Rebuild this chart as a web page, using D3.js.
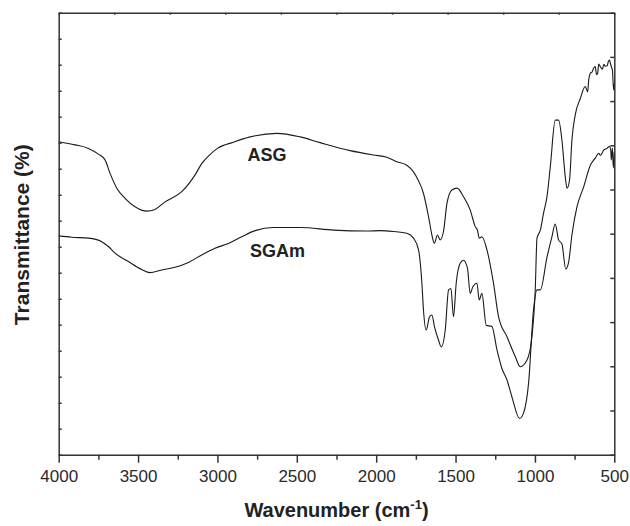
<!DOCTYPE html>
<html>
<head>
<meta charset="utf-8">
<script src="https://cdn.jsdelivr.net/npm/d3@7/dist/d3.min.js"></script>
<style>
  html, body { margin: 0; padding: 0; background: #fff; }
  svg { display: block; }
  text { font-family: Arial, "Liberation Sans", sans-serif; }
</style>
</head>
<body>
<svg id="chart" width="630" height="526"></svg>
<script>
// FTIR spectra: wavenumber (cm-1) and transmittance (arbitrary %)
const wnASG = [4000,3897,3813,3750,3708,3677,3634,3582,3519,3445,3393,3330,3225,3141,3100,3050,3000,2900,2794,2626,2479,2353,2164,2017,1933,1870,1807,1765,1735,1702,1670,1649,1634,1614,1597,1576,1554,1523,1491,1450,1408,1376,1362,1351,1334,1302,1261,1229,1176,1124,1092,1050,1019,998,987,966,946,924,903,872,851,830,809,798,782,767,746,714,683,668,661,651,640,630,620,612,605,598,588,575,566,557,545,537,530,525,519,512,504,500];
const tASG  = [70.8,70.1,69.3,68.0,66.7,63.7,60.3,58.0,56.1,55.1,55.5,57.2,59.5,63.3,65.8,67.8,69.3,70.7,71.9,72.7,71.9,70.6,68.8,67.8,67.3,66.3,65.5,64.0,62.1,59.1,53.8,49.7,47.8,49.7,48.6,50.5,56.9,59.9,60.3,58.4,55.4,51.6,50.8,49.0,49.3,46.3,38.8,31.2,26.7,22.2,19.9,21.4,26.7,37.3,49.0,50.8,54.6,58.4,65.2,75.7,75.7,71.2,62.9,60.3,62.1,71.2,76.9,80.6,83.3,82.1,84.8,86.3,86.6,87.5,87.8,86.0,86.3,88.4,87.8,87.2,88.3,87.9,88.0,89.0,89.3,88.6,87.8,87.0,82.5,84.0];

const wnSGAm = [4000,3918,3813,3729,3687,3645,3561,3477,3425,3351,3267,3183,3099,3015,2931,2847,2763,2647,2479,2269,2059,1975,1891,1807,1765,1733,1712,1702,1685,1664,1649,1633,1607,1590,1565,1544,1529,1513,1496,1471,1450,1425,1408,1391,1365,1351,1334,1307,1271,1239,1208,1176,1145,1097,1072,1040,1009,987,966,924,893,872,851,830,806,788,767,735,693,651,620,598,588,567,546,530,522,519,512,506,500];
const tSGAm  = [49.5,49.2,49.0,48.2,47.1,45.6,43.7,41.9,41.2,41.8,42.4,43.5,45.2,46.7,47.8,49.3,50.7,51.4,51.4,50.8,50.6,50.7,50.5,50.1,49.0,46.3,38.8,32.7,28.2,31.2,31.6,29.0,25.9,24.4,28.2,37.3,37.6,31.2,38.8,43.3,44.0,42.2,36.5,38.0,38.8,35.0,36.5,29.3,29.0,23.7,19.5,16.9,13.1,8.2,9.4,16.2,32.7,37.3,37.3,44.7,49.3,52.2,48.6,47.7,42.0,43.5,49.7,56.1,60.6,65.5,67.1,68.2,67.7,68.9,69.3,69.8,68.8,66.7,69.4,64.9,68.5];

const seriesNames = ["ASG", "SGAm"];
const xTickValues = [4000, 3500, 3000, 2500, 2000, 1500, 1000, 500];
const xMinorTicks = [3750, 3250, 2750, 2250, 1750, 1250, 750];

const plot = { left: 58.7, right: 614.3, top: 12.7, bottom: 454.7 };

const svg = d3.select("#chart");

const x = d3.scaleLinear().domain([4000, 500]).range([plot.left, plot.right]);
const y = d3.scaleLinear().domain([0, 100]).range([plot.bottom, plot.top]);

const axisColor = "#333";

// spectra
const series = [
  { name: seriesNames[0], wn: wnASG, t: tASG },
  { name: seriesNames[1], wn: wnSGAm, t: tSGAm }
];

const line = d3.line()
  .x(d => x(d[0]))
  .y(d => y(d[1]))
  .curve(d3.curveMonotoneX);

series.forEach(s => {
  const pts = s.wn.map((w, i) => [w, s.t[i]]).sort((a, b) => b[0] - a[0]);
  svg.append("path")
    .datum(pts)
    .attr("fill", "none")
    .attr("stroke", "#1a1a1a")
    .attr("stroke-width", 1.1)
    .attr("stroke-linejoin", "round")
    .attr("d", line);
});

// series labels
const labelPos = [
  { name: seriesNames[0], wn: 2810, t: 66.4 },
  { name: seriesNames[1], wn: 2795, t: 44.8 }
];
svg.selectAll("text.series")
  .data(labelPos)
  .join("text")
  .attr("class", "series")
  .attr("x", d => x(d.wn))
  .attr("y", d => y(d.t))
  .attr("font-size", 18)
  .attr("font-weight", "bold")
  .attr("fill", "#222")
  .text(d => d.name);

// bottom axis: labelled major ticks plus minor ticks
const gBottom = svg.append("g").attr("transform", `translate(0,${plot.bottom})`);
gBottom.call(d3.axisBottom(x).tickValues(xTickValues).tickSize(8).tickSizeOuter(0).tickPadding(7).tickFormat(d3.format("d")));
gBottom.append("g").call(d3.axisBottom(x).tickValues(xMinorTicks).tickSize(5).tickFormat(""))
  .select(".domain").remove();
gBottom.selectAll("text").attr("font-size", 17).attr("fill", "#2a2a2a").attr("font-family", "Arial, 'Liberation Sans', sans-serif");

// top axis: short inward ticks
const xTop = d3.range(0, 11).map(i => 4000 - i * 350);
svg.append("g").attr("transform", `translate(0,${plot.top})`)
  .call(d3.axisTop(x).tickValues(xTop).tickSize(-2).tickSizeOuter(0).tickFormat(""));

// left axis: inward ticks, no labels
const yLeft = d3.scaleLinear().domain([0, 17]).range([plot.bottom, plot.top]);
svg.append("g").attr("transform", `translate(${plot.left},0)`)
  .call(d3.axisLeft(yLeft).tickValues(d3.range(0, 18)).tickSize(-3).tickSizeOuter(0).tickFormat(""));

// right axis: inward ticks, no labels
svg.append("g").attr("transform", `translate(${plot.right},0)`)
  .call(d3.axisRight(y).tickValues(d3.range(0, 101, 10)).tickSize(-4).tickSizeOuter(0).tickFormat(""));

svg.selectAll(".domain, .tick line")
  .attr("stroke", axisColor)
  .attr("stroke-width", 1.5);

// axis titles
svg.append("text")
  .attr("x", (plot.left + plot.right) / 2)
  .attr("y", 517)
  .attr("text-anchor", "middle")
  .attr("font-size", 20)
  .attr("font-weight", "bold")
  .attr("fill", "#222")
  .call(t => {
    t.append("tspan").text("Wavenumber (cm");
    t.append("tspan").attr("font-size", 13).attr("dy", -8).text("-1");
    t.append("tspan").attr("dy", 8).text(")");
  });

svg.append("text")
  .attr("transform", `translate(29,${(plot.top + plot.bottom) / 2 + 1}) rotate(-90)`)
  .attr("text-anchor", "middle")
  .attr("font-size", 21)
  .attr("font-weight", "bold")
  .attr("fill", "#222")
  .text("Transmittance (%)");
</script>
</body>
</html>
